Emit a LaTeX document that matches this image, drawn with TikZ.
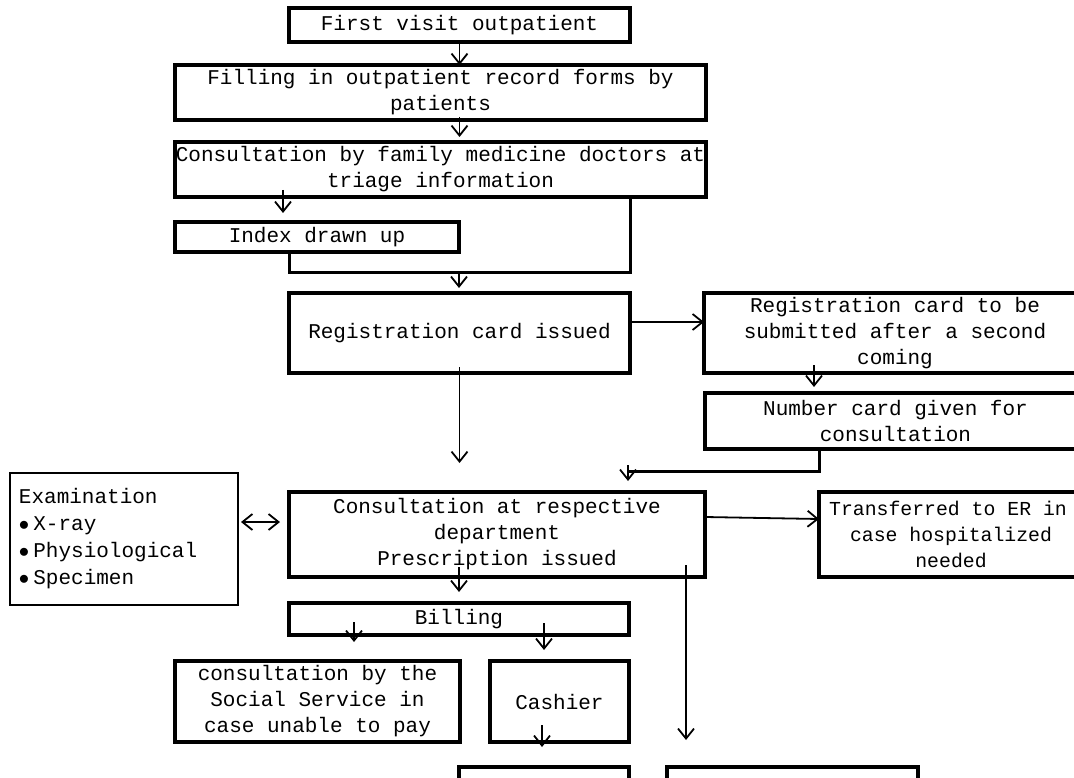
\documentclass[tikz,border=0pt]{standalone}
\usepackage{fontspec}
\setmonofont{Liberation Mono}
\usetikzlibrary{arrows.meta,calc}

\begin{document}
\begin{tikzpicture}[
    x=1pt, y=-1pt,
    box/.style={draw=black, line width=3.2pt, align=center, inner sep=0pt,
        outer sep=0pt, font=\ttfamily\fontsize{21}{26}\selectfont},
    line/.style={line width=3pt},
    arr/.style={line width=1.8pt, -{Straight Barb[length=10pt,width=16pt]}},
    dblarr/.style={line width=1.8pt,
        {Straight Barb[length=10pt,width=16pt]}-{Straight Barb[length=10pt,width=16pt]}}
]
    \clip (0,0) rectangle (1074,778);
    \node[box, minimum width=341pt, minimum height=34pt] (first) at (459.5,25) {First visit outpatient};
    \node[box, minimum width=531pt, minimum height=55pt] (fill) at (440.5,92.5) {Filling in outpatient record forms by\\patients};
    \node[box, minimum width=531pt, minimum height=55pt] (famdoc) at (440.5,169.5) {Consultation by family medicine doctors at\\triage information};
    \node[box, minimum width=284pt, minimum height=30pt] (index) at (317,237) {Index drawn up};
    \node[box, minimum width=341pt, minimum height=80pt] (regcard) at (459.5,333) {Registration card issued};
    \node[box, minimum width=382pt, minimum height=80pt] (submit) at (895,333) {Registration card to be\\submitted after a second\\coming};
    \node[box, minimum width=381pt, minimum height=56pt] (number) at (895.5,421) {Number card given for\\consultation};
    \node[box, line width=2pt, align=left, text width=210pt, inner xsep=9pt, minimum height=132pt,
        font=\ttfamily\fontsize{21}{27}\selectfont] (exam) at (124,539)
        {Examination\\$\bullet$\hspace{4pt}X-ray\\$\bullet$\hspace{4pt}Physiological\\$\bullet$\hspace{4pt}Specimen};
    \node[box, minimum width=416pt, minimum height=85pt] (consult) at (497,534.5) {Consultation at respective\\department\\Prescription issued};
    \node[box, minimum width=264pt, minimum height=85pt,
        font=\ttfamily\fontsize{19.8}{26}\selectfont] (transfer) at (951,534.5)
        {\hspace*{-6pt}Transferred to ER in\\case hospitalized\\needed};
    \node[box, minimum width=340pt, minimum height=32pt] (billing) at (459,619) {Billing};
    \node[box, minimum width=285pt, minimum height=81pt] (social) at (317.5,701.5) {consultation by the\\Social Service in\\case unable to pay};
    \node[box, minimum width=139pt, minimum height=81pt] (cashier) at (559.5,701.5) {Cashier};
    \node[box, minimum width=170pt, minimum height=68pt] (botleft) at (544,801) {};
    \node[box, minimum width=251pt, minimum height=68pt] (botright) at (792.5,801) {};
    \coordinate (merge) at (459,273);
    \coordinate (turn) at (628,471);
    \draw[arr] (first.south) -- (first.south |- fill.north);
    \draw[arr] ($(fill.south -| first.south)+(0,-3)$) -- ($(famdoc.north -| first.south)+(0,-5)$);
    \draw[arr] ($(famdoc.south -| index.north)+(-34,-7)$) -- ($(index.north)+(-34,-9)$);
    \draw[line] (index.south -| regcard.west) |- (merge);
    \draw[line] (famdoc.south -| regcard.east) |- (merge);
    \draw[arr] (merge) -- ($(regcard.north -| merge)+(0,-5)$);
    \draw[arr] ($(regcard.south)+(0,-6)$) -- ($(consult.north -| regcard.south)+(0,-29)$);
    \draw[arr] ($(regcard.east)+(0,-11)$) -- ($(regcard.east -| submit.west)+(0,-11)$);
    \draw[arr] ($(submit.south)+(-81,-8)$) -- ($(number.north -| submit.south)+(-81,-6)$);
    \draw[line] ($(number.south)+(-76.5,0)$) |- (turn);
    \draw[arr] ($(turn)+(0,-6)$) -- ($(consult.north -| turn)+(0,-11)$);
    \draw[dblarr] ($(exam.east)+(3,-17)$) -- ($(consult.west |- exam.east)+(-9,-17)$);
    \draw[arr] ($(consult.east)+(0,-17.5)$) -- ($(transfer.west)+(0,-15.5)$);
    \draw[arr] ($(consult.south -| billing.north)+(0,-10)$) -- ($(billing.north)+(0,-11)$);
    \draw[arr] ($(consult.south east)+(-19,-12)$) -- ($(consult.south east |- botright.north)+(-19,-27)$);
    \draw[arr] ($(billing.south west)+(65,-13)$) -- ($(social.north -| billing.south west)+(65,-19)$);
    \draw[arr] ($(cashier.north)+(-15.5,-38)$) -- ($(cashier.north)+(-15.5,-11)$);
    \draw[arr] ($(cashier.south)+(-17.5,-17)$) -- ($(botleft.north -| cashier.south)+(-17.5,-20)$);
\end{tikzpicture}
\end{document}
